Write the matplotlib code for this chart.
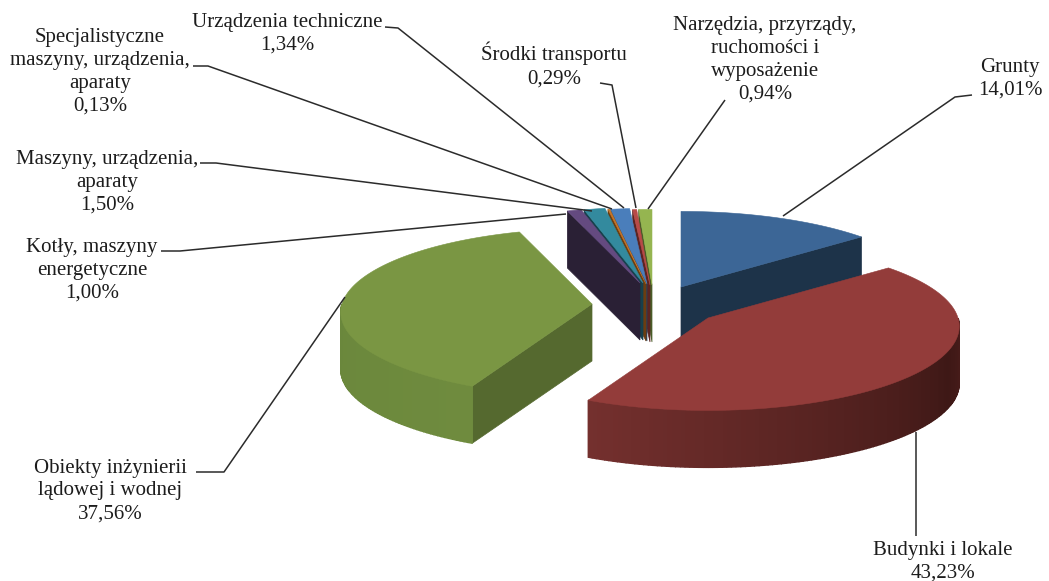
import numpy as np
import matplotlib
matplotlib.use('Agg')
import matplotlib.pyplot as plt
from matplotlib.patches import Polygon

# Shares in percent, clockwise from the top of the pie
names = ['Grunty', 'Budynki i lokale', 'Obiekty inżynierii\nlądowej i wodnej',
         'Kotły, maszyny\nenergetyczne', 'Maszyny, urządzenia,\naparaty',
         'Specjalistyczne\nmaszyny, urządzenia,\naparaty', 'Urządzenia techniczne',
         'Środki transportu', 'Narzędzia, przyrządy,\nruchomości i\nwyposażenie']
shares = [14.01, 43.23, 37.56, 1.00, 1.50, 0.13, 1.34, 0.29, 0.94]
share_labels = ['14,01%', '43,23%', '37,56%', '1,00%', '1,50%', '0,13%', '1,34%', '0,29%', '0,94%']

# Colours: top, cut face, outer face near and far end
top_colors = ['#3c6696', '#933c3a', '#7a9643', '#644a80', '#338a9e', '#c87628', '#4a7ebb', '#b84a48', '#95b550']
cut_colors = ['#1d3349', '#3e1816', '#55692f', '#2a2035', '#17404c', '#6b3d10', '#23405f', '#5c2422', '#4a5c28']
side_start = ['#1d3349', '#45201c', '#6f8b3e', '#2a2035', '#17404c', '#6b3d10', '#23405f', '#5c2422', '#4a5c28']
side_end = ['#1d3349', '#74302e', '#6a873c', '#2a2035', '#17404c', '#6b3d10', '#23405f', '#5c2422', '#4a5c28']

# Pie shape, in pixels of the figure
center_x, center_y = 650, 307
radius_x, radius_y = 250, 84
depth = 57
perspective = 0.1
explode_x = [31, 58, -58, -10, -7, -4, -3, 0, 2]
explode_y = [-20, 11, -3, -24, -24, -23, -23, -22, -22]
draw_order = [8, 7, 6, 5, 4, 3, 0, 2, 1]


def rim(angles, slice_no):
    p = 1 - perspective * np.cos(angles)
    x = center_x + explode_x[slice_no] + radius_x * np.sin(angles) * p
    y = center_y + explode_y[slice_no] - radius_y * np.cos(angles) * p
    return x, y


def hex_mix(a, b, t):
    a = np.array(matplotlib.colors.to_rgb(a))
    b = np.array(matplotlib.colors.to_rgb(b))
    return tuple(a + (b - a) * t)


def draw_slice(ax, i, start, end):
    apex = (center_x + explode_x[i], center_y + explode_y[i])
    angles = np.linspace(start, end, max(int((end - start) * 60), 3))
    x, y = rim(angles, i)

    # cut faces that look to the viewer
    if np.cos(end) < 0.7 and np.sin(end) > 0:
        quad = [apex, (x[-1], y[-1]), (x[-1], y[-1] + depth), (apex[0], apex[1] + depth)]
        ax.add_patch(Polygon(quad, closed=True, fc=cut_colors[i], ec=cut_colors[i], lw=0.5))
    if np.sin(start) < 0:
        quad = [apex, (x[0], y[0]), (x[0], y[0] + depth), (apex[0], apex[1] + depth)]
        ax.add_patch(Polygon(quad, closed=True, fc=cut_colors[i], ec=cut_colors[i], lw=0.5))

    # outer face, only the part on the viewer's side
    front = np.cos(angles) < 0
    idx = np.where(front)[0]
    for k in idx[:-1]:
        t = (k - idx[0]) / max(len(idx) - 2, 1)
        col = hex_mix(side_start[i], side_end[i], t)
        if i == 1:
            # the brown side is darkest a little after the right end
            t = abs(t - 0.2) / 0.8
            col = hex_mix('#3e1816', side_end[i], t)
        quad = [(x[k], y[k]), (x[k + 1], y[k + 1]), (x[k + 1], y[k + 1] + depth), (x[k], y[k] + depth)]
        ax.add_patch(Polygon(quad, closed=True, fc=col, ec=col, lw=1.0))

    # top of the slice
    pts = [apex] + list(zip(x, y))
    ax.add_patch(Polygon(pts, closed=True, fc=top_colors[i], ec=top_colors[i], lw=0.4))


fig = plt.figure(figsize=(10.49, 5.81), dpi=100)
ax = fig.add_axes([0, 0, 1, 1])
ax.set_xlim(0, 1049)
ax.set_ylim(581, 0)
ax.axis('off')

edges = np.concatenate([[0], np.cumsum(shares)]) / sum(shares) * 2 * np.pi
for i in draw_order:
    draw_slice(ax, i, edges[i], edges[i + 1])

# Leader lines and labels
leaders = [
    [(972, 95), (955, 97), (783, 216)],
    [(916, 536), (916, 432)],
    [(196, 472), (224, 472), (345, 297)],
    [(161, 251), (180, 251), (566, 214)],
    [(200, 163), (216, 163), (592, 211)],
    [(193, 66), (208, 66), (612, 209)],
    [(385, 27), (398, 28), (624, 208)],
    [(600, 83), (612, 85), (636, 208)],
    [(725, 100), (648, 209)],
]
label_pos = [(1010, 79), (943, 562), (110, 491), (92, 270), (107, 182), (100, 72), (287, 34), (554, 65), (765, 60)]

for line in leaders:
    xs, ys = zip(*line)
    ax.plot(xs, ys, color='#2b2b2b', lw=1.1, solid_capstyle='butt')

for name, label, pos in zip(names, share_labels, label_pos):
    ax.text(pos[0], pos[1], name + '\n' + label, ha='center', va='center',
            family='Liberation Serif', fontsize=15, color='#1c1c1c', linespacing=1.28)

fig.savefig('out.png', dpi=100)
